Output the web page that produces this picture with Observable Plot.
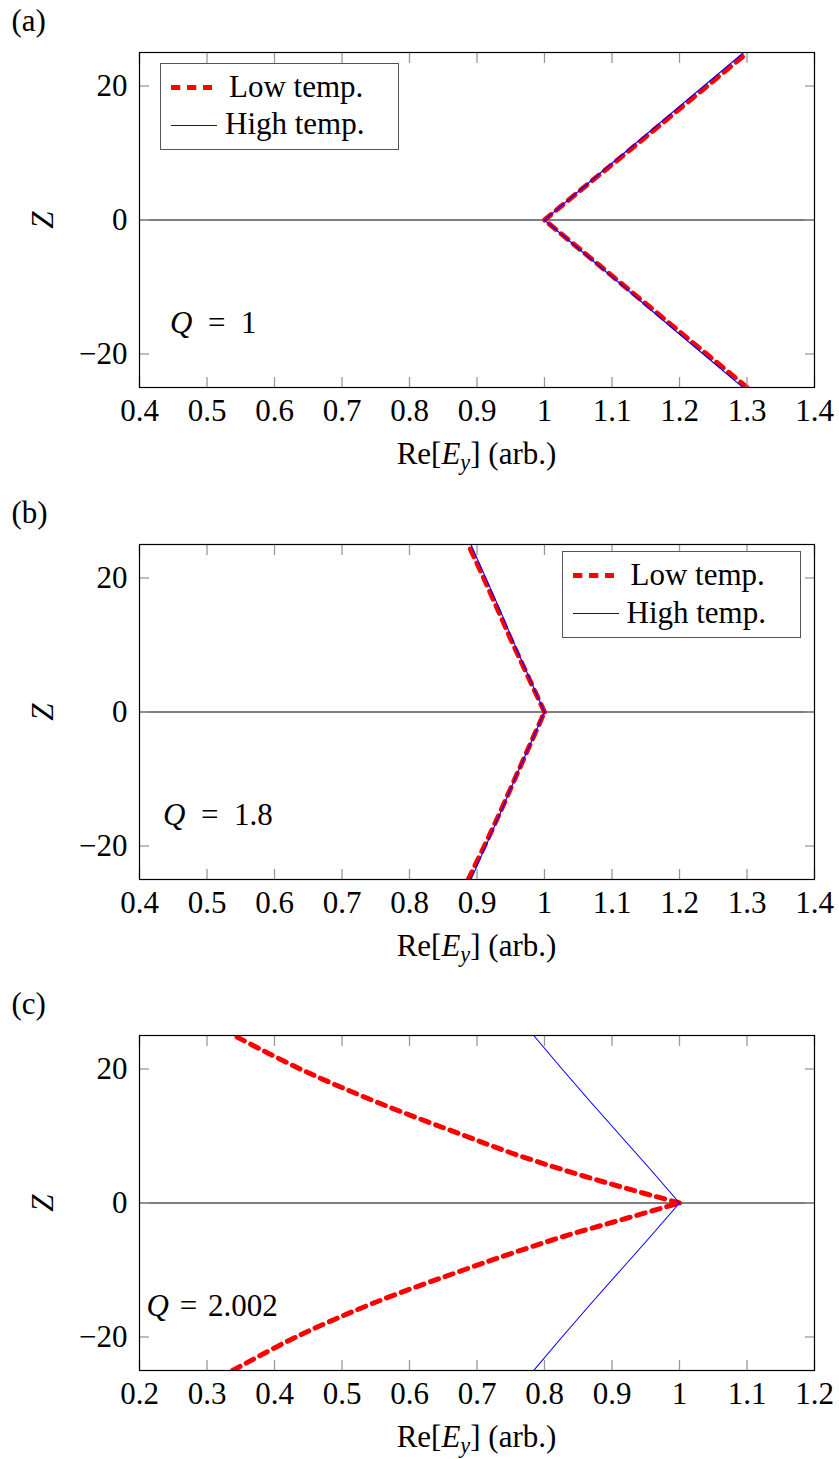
<!DOCTYPE html>
<html>
<head>
<meta charset="utf-8">
<script src="https://cdn.jsdelivr.net/npm/d3@7"></script>
<script src="https://cdn.jsdelivr.net/npm/@observablehq/plot@0.6"></script>
<style>
  body { margin: 0; background: #fff; font-family: "Liberation Serif", "Times New Roman", Tinos, "DejaVu Serif", serif; color: #000; }
  #page { position: relative; width: 839px; height: 1459px; overflow: hidden; background: #fff; }
  .panel { position: absolute; left: 0; width: 839px; }
  .panel svg { display: block; }
  .txt { position: absolute; font-size: 31px; line-height: 31px; white-space: nowrap; font-family: "Liberation Serif", "Times New Roman", Tinos, "DejaVu Serif", serif; }
  .sub { position: relative; top: 0.28em; font-size: 0.72em; line-height: 0; font-style: italic; }
  .legend { position: absolute; width: 237px; height: 85px; border: 1.3px solid #555; background: #fff; }
  .legend svg { position: absolute; left: 0; top: 0; overflow: visible; }
  .ltxt { position: absolute; font-size: 31px; line-height: 31px; white-space: nowrap; font-family: "Liberation Serif", "Times New Roman", Tinos, "DejaVu Serif", serif; }
</style>
</head>
<body>
<div id="page"></div>
<script>
// ---------- data ----------
const zTicks = [-20, 0, 20];
const xTicksAB = [0.4, 0.5, 0.6, 0.7, 0.8, 0.9, 1.0, 1.1, 1.2, 1.3, 1.4];
const xTicksC = [0.2, 0.3, 0.4, 0.5, 0.6, 0.7, 0.8, 0.9, 1.0, 1.1, 1.2];

// Panel (a), Q = 1
const zA = [-25, -20, -15, -10, -5, 0, 5, 10, 15, 20, 25];
const lowA = [1.300, 1.240, 1.180, 1.120, 1.060, 1.000, 1.060, 1.121, 1.181, 1.241, 1.301];
const highA = [1.294, 1.235, 1.176, 1.118, 1.059, 1.000, 1.059, 1.118, 1.177, 1.236, 1.295];

// Panel (b), Q = 1.8
const zB = [-25, -20, -15, -10, -5, 0, 5, 10, 15, 20, 25];
const lowB = [0.887, 0.911, 0.934, 0.956, 0.978, 1.000, 0.977, 0.954, 0.932, 0.910, 0.887];
const highB = [0.891, 0.913, 0.935, 0.956, 0.978, 1.000, 0.978, 0.956, 0.935, 0.913, 0.891];

// Panel (c), Q = 2.002
const zLowC = [-25, -20, -15, -10, -7.5, -5, -2.5, 0, 2.5, 5, 7.5, 10, 15, 20, 25];
const lowC = [0.338, 0.432, 0.545, 0.680, 0.752, 0.828, 0.914, 1.000, 0.910, 0.826, 0.750, 0.683, 0.553, 0.438, 0.340];
const zHighC = [-25, -20, -15, -10, -5, 0, 5, 10, 15, 20, 25];
const highC = [0.784, 0.826, 0.869, 0.913, 0.957, 1.000, 0.957, 0.913, 0.869, 0.826, 0.784];

const seriesNames = ["Low temp.", "High temp."];
const panelLabels = ["(a)", "(b)", "(c)"];
const qValues = ["1", "1.8", "2.002"];

// ---------- helpers ----------
// split each profile into its lower (z<=0) and upper (z>=0) branch so the tip stays sharp
const rows = (xs, zs) => {
  const out = [];
  xs.forEach((x, i) => {
    const z = zs[i];
    if (z <= 0) out.push({x, z, branch: "lower"});
    if (z >= 0) out.push({x, z, branch: "upper"});
  });
  return out;
};
const FONT = `"Liberation Serif", "Times New Roman", Tinos, "DejaVu Serif", serif`;
const fmtX = d => String(Math.round(d * 10) / 10);
const fmtY = d => d < 0 ? "\u2212" + Math.abs(d) : String(d);

function makePlot(xDomain, xTicks, low, high, height) {
  return Plot.plot({
    width: 839,
    height,
    marginTop: 52,
    marginBottom: height - 387,
    marginLeft: 139,
    marginRight: 25,
    x: {domain: xDomain},
    y: {domain: [-25, 25]},
    style: {fontFamily: FONT, fontSize: "31px", background: "white", color: "black", overflow: "visible"},
    marks: [
      Plot.ruleY([0], {stroke: "black", strokeWidth: 1.2}),
      Plot.line(low, {x: "x", y: "z", z: "branch", curve: "catmull-rom", stroke: "#ff0000", strokeWidth: 5, strokeDasharray: "8.5,7", clip: true}),
      Plot.line(high, {x: "x", y: "z", z: "branch", stroke: "#0000ff", strokeWidth: 1.1, clip: true}),
      Plot.axisX(xTicks, {anchor: "bottom", tickSize: -10, stroke: "#9a9a9a", strokeWidth: 1.3, fill: "none", label: null}),
      Plot.axisX(xTicks, {anchor: "top", tickSize: -10, stroke: "#9a9a9a", strokeWidth: 1.3, fill: "none", label: null}),
      Plot.axisY(zTicks, {anchor: "left", tickSize: -10, stroke: "#9a9a9a", strokeWidth: 1.3, fill: "none", label: null}),
      Plot.axisY(zTicks, {anchor: "right", tickSize: -10, stroke: "#9a9a9a", strokeWidth: 1.3, fill: "none", label: null}),
      Plot.axisX(xTicks, {anchor: "bottom", tickSize: 0, tickPadding: 11, tickFormat: fmtX, label: null, fill: "black"}),
      Plot.axisY(zTicks, {anchor: "left", tickSize: 0, tickPadding: 12, tickFormat: fmtY, label: null, fill: "black"}),
      Plot.frame({stroke: "black", strokeWidth: 1.2})
    ]
  });
}

// baseline-positioned text: top = baseline - 26 for 31px serif with line-height 31px
function addText(parent, html, left, baseline) {
  const d = document.createElement("div");
  d.className = "txt";
  d.innerHTML = html;
  d.style.left = left + "px";
  d.style.top = (baseline - 26) + "px";
  parent.appendChild(d);
  return d;
}

function addLegend(parent, left, top) {
  const box = document.createElement("div");
  box.className = "legend";
  box.style.left = left + "px";
  box.style.top = top + "px";
  box.innerHTML =
    `<svg width="70" height="80">
       <line x1="10" x2="51" y1="23.5" y2="23.5" stroke="#ff0000" stroke-width="5" stroke-dasharray="9.3,6.7"/>
       <line x1="10" x2="56" y1="61.5" y2="61.5" stroke="#0000ff" stroke-width="1.1"/>
     </svg>
     <div class="ltxt" style="left:68px; top:7px">${seriesNames[0]}</div>
     <div class="ltxt" style="left:64px; top:44.5px">${seriesNames[1]}</div>`;
  parent.appendChild(box);
}

const page = document.getElementById("page");
const panelDefs = [
  {top: 0, height: 492, xDomain: [0.4, 1.4], xTicks: xTicksAB, low: rows(lowA, zA), high: rows(highA, zA),
   legend: [160, 62.5], q: qValues[0], qLeft: 170, qGap: "0.5em"},
  {top: 492, height: 491, xDomain: [0.4, 1.4], xTicks: xTicksAB, low: rows(lowB, zB), high: rows(highB, zB),
   legend: [561.5, 59], q: qValues[1], qLeft: 163, qGap: "0.5em"},
  {top: 983, height: 476, xDomain: [0.2, 1.2], xTicks: xTicksC, low: rows(lowC, zLowC), high: rows(highC, zHighC),
   legend: null, q: qValues[2], qLeft: 146.5, qGap: "0.35em"}
];

panelDefs.forEach((p, i) => {
  const div = document.createElement("div");
  div.className = "panel";
  div.style.top = p.top + "px";
  div.style.height = p.height + "px";
  div.appendChild(makePlot(p.xDomain, p.xTicks, p.low, p.high, p.height));
  page.appendChild(div);

  addText(div, panelLabels[i], 11.5, 31);
  const xl = addText(div, `Re[<i>E</i><span class="sub">y</span>] (arb.)`, 476.5, 463.5);
  xl.style.transform = "translateX(-50%)";
  const yl = document.createElement("div");
  yl.className = "txt";
  yl.innerHTML = "<i>Z</i>";
  yl.style.left = "41.5px";
  yl.style.top = "219.5px";
  yl.style.transform = "translate(-50%, -50%) rotate(-90deg)";
  div.appendChild(yl);
  addText(div, `<i>Q</i><span style="margin:0 ${p.qGap}">=</span>${p.q}`, p.qLeft, 333);
  if (p.legend) addLegend(div, p.legend[0], p.legend[1]);
});
</script>
</body>
</html>
